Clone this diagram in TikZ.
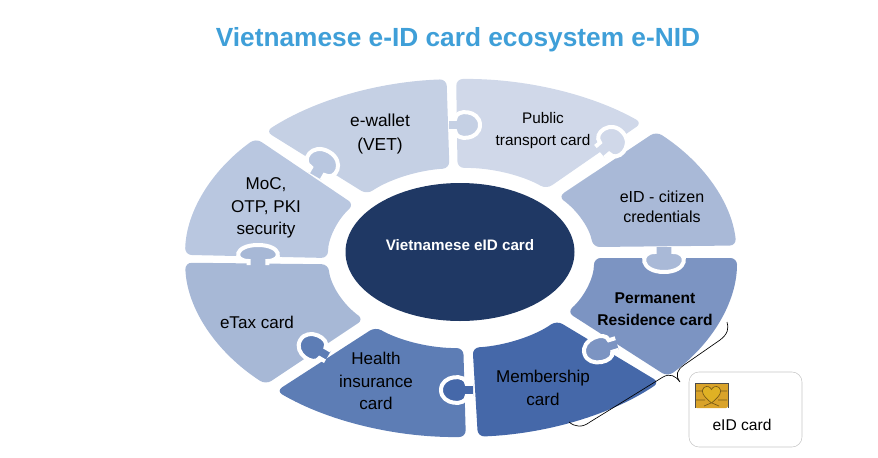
\documentclass[tikz,border=0pt]{standalone}
\usepackage{fontspec}
\setmainfont{Liberation Sans}
\usetikzlibrary{shapes}
\definecolor{titleblue}{HTML}{3F9FD8}
\definecolor{corenavy}{HTML}{1F3864}
\definecolor{walletblue}{HTML}{C5D0E4}
\definecolor{publicblue}{HTML}{D0D8E9}
\definecolor{citizenblue}{HTML}{A9B9D7}
\definecolor{residentblue}{HTML}{7C94C2}
\definecolor{memberblue}{HTML}{4568A9}
\definecolor{healthblue}{HTML}{5D7DB5}
\definecolor{taxblue}{HTML}{A7B8D6}
\definecolor{mocblue}{HTML}{B9C7E0}
\definecolor{chipgold}{HTML}{D9A32A}
\tikzset{
  piece/.style={rounded corners=5pt},
  rimarc/.style={x radius=276,y radius=179},
  hubarc/.style={x radius=133,y radius=90},
  tabcut/.style={draw=white,line width=3pt},
  label/.style={align=center,inner sep=0pt,font=\fontsize{12.8}{17}\selectfont},
}
\newcommand{\tabpiece}[1]{\draw[tabcut,#1] (-.55,0) -- (-.55,-.2) .. controls (-1.5,-.2) and (-1.4,-1) .. (0,-1) .. controls (1.4,-1) and (1.5,-.2) .. (.55,-.2) -- (.55,0);}
\begin{document}
\begin{tikzpicture}[x=0.75pt,y=-0.75pt]
  \useasboundingbox (0,0) rectangle (878,457);
  \node (title) at (458,40) [text=titleblue,inner sep=0pt,font=\fontsize{19.7}{24}\selectfont\bfseries] {Vietnamese e-ID card ecosystem e-NID};
  % ring of pieces, angles run clockwise from the right
  \begin{scope}[shift={(461,258)}]
    \fill[piece,fill=walletblue] (225:276 and 179) arc[rimarc,start angle=225,end angle=267] -- (265:133 and 90) arc[hubarc,start angle=265,end angle=225] -- cycle;
    \fill[piece,fill=publicblue] (269:276 and 179) arc[rimarc,start angle=269,end angle=311] -- (310:133 and 90) arc[hubarc,start angle=310,end angle=268.5] -- cycle;
    \fill[piece,fill=citizenblue] (315:276 and 179) arc[rimarc,start angle=315,end angle=356] -- (353:133 and 90) arc[hubarc,start angle=353,end angle=317] -- cycle;
    \fill[piece,fill=residentblue] (0:276 and 179) arc[rimarc,start angle=0,end angle=41.5] -- (37:133 and 90) arc[hubarc,start angle=37,end angle=0] -- cycle;
    \fill[piece,fill=memberblue] (44:276 and 179) arc[rimarc,start angle=44,end angle=86.5] -- (85:133 and 90) arc[hubarc,start angle=85,end angle=44] -- cycle;
    \fill[piece,fill=healthblue] (89:276 and 179) arc[rimarc,start angle=89,end angle=132] -- (130:133 and 90) arc[hubarc,start angle=130,end angle=89] -- cycle;
    \fill[piece,fill=taxblue] (135:276 and 179) arc[rimarc,start angle=135,end angle=178.5] -- (176:133 and 90) arc[hubarc,start angle=176,end angle=137] -- cycle;
    \fill[piece,fill=mocblue] (181:276 and 179) arc[rimarc,start angle=181,end angle=222] -- (216.5:133 and 90) arc[hubarc,start angle=216.5,end angle=180] -- cycle;
  \end{scope}
  % puzzle tabs, each one bites into its neighbour
  \tabpiece{fill=mocblue,shift={(315,176)},rotate=-30,xscale=14,yscale=28}
  \tabpiece{fill=walletblue,shift={(449,125)},rotate=-90,xscale=11,yscale=31}
  \tabpiece{fill=publicblue,shift={(600,152)},rotate=-50,xscale=13,yscale=30}
  \tabpiece{fill=taxblue,shift={(258,265)},rotate=0,xscale=17,yscale=20}
  \tabpiece{fill=citizenblue,shift={(664,247)},rotate=180,xscale=17,yscale=25}
  \tabpiece{fill=residentblue,shift={(617,344)},rotate=107,xscale=11,yscale=34}
  \tabpiece{fill=memberblue,shift={(473,390)},rotate=90,xscale=11,yscale=32}
  \tabpiece{fill=healthblue,shift={(328,356)},rotate=60,xscale=11,yscale=32}
  \node (core) at (460,252) [ellipse,fill=corenavy,inner sep=0pt,minimum width=171.75pt,minimum height=103.5pt] {};
  \node (coretext) at (460,245) [label,text=white,font=\fontsize{11.4}{15}\selectfont\bfseries] {Vietnamese eID card};
  \node (wallet) at (380,134) [label,font=\fontsize{13}{18}\selectfont] {e-wallet\\(VET)};
  \node (public) at (543,131) [label,font=\fontsize{11.5}{16.5}\selectfont] {Public\\transport card};
  \node (citizen) at (662,207) [label,font=\fontsize{12}{15}\selectfont] {eID - citizen\\credentials};
  \node (resident) at (655,309) [label,font=\fontsize{11.7}{16.5}\selectfont\bfseries] {Permanent\\Residence card};
  \node (member) at (543,388) [label] {Membership\\card};
  \node (health) at (376,381) [label] {Health\\insurance\\card};
  \node (tax) at (257,322) [label] {eTax card};
  \node (moc) at (266,208) [label] {MoC,\\OTP, PKI\\security};
  % brace from the ring to the card
  \draw[line width=0.5pt] (569,422) .. controls (575,427) and (582,428) .. (590,422) -- (663,377) .. controls (670,373) and (676,376) .. (680,382) .. controls (675,375) and (677,370) .. (684,365) -- (720,340) .. controls (728,334) and (729,328) .. (727,322);
  % the card with its chip
  \draw[draw=black!22,rounded corners=7.5pt] (689,372) rectangle (802,447);
  \fill[chipgold,rounded corners=1.5pt] (695,383) rectangle (728,408);
  \draw[black!70,line width=0.6pt] (695,408) -- (695,383) -- (728,383) -- (728,408);
  \draw[black!45!chipgold,line width=0.5pt] (696,391) -- (704,391) (696,400) -- (705,400) (727,391) -- (719,391) (727,400) -- (718,400) (704,406) -- (711,403) (719,406) -- (712,403);
  \draw[black!45!chipgold,fill=chipgold!85!yellow,line width=0.5pt] (711.5,403) .. controls (703,396) and (700,391) .. (704,387.5) .. controls (707,385.5) and (710,386.5) .. (711.5,389.5) .. controls (713,386.5) and (716,385.5) .. (719,387.5) .. controls (723,391) and (720,396) .. (711.5,403);
  \node (cardtext) at (742,425) [label,font=\fontsize{11.7}{15}\selectfont] {eID card};
\end{tikzpicture}
\end{document}
